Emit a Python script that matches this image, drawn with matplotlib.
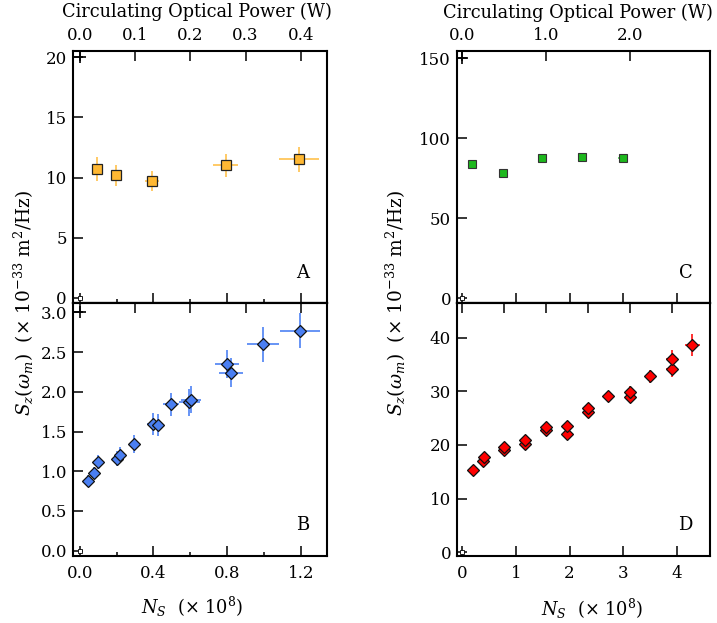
import matplotlib
matplotlib.use("Agg")
import matplotlib.pyplot as plt
import numpy as np

# ---------------- data ----------------
# Panel A: circulating optical power (W) vs S_z (1e-33 m^2/Hz)
A_power = [0.032, 0.065, 0.131, 0.264, 0.396]
A_S = [10.72, 10.17, 9.70, 11.00, 11.50]
A_xerr = [0.004, 0.004, 0.012, 0.023, 0.036]
A_yerr = [0.97, 0.90, 0.86, 0.97, 1.03]

# Panel B: N_S (1e8) vs S_z
B_N = [0.047, 0.080, 0.101, 0.201, 0.219, 0.297, 0.396, 0.427, 0.496,
       0.595, 0.604, 0.798, 0.821, 0.993, 1.195]
B_S = [0.877, 0.977, 1.12, 1.16, 1.21, 1.34, 1.59, 1.58, 1.84,
       1.87, 1.90, 2.35, 2.24, 2.60, 2.77]
B_xerr = [0.010, 0.010, 0.012, 0.020, 0.020, 0.025, 0.030, 0.030, 0.045,
          0.055, 0.055, 0.065, 0.065, 0.088, 0.107]
B_yerr = [0.07, 0.08, 0.09, 0.10, 0.10, 0.11, 0.14, 0.14, 0.15,
          0.17, 0.17, 0.18, 0.18, 0.22, 0.22]

# Panel C: circulating optical power (W) vs S_z
C_power = [0.11, 0.49, 0.95, 1.43, 1.91]
C_S = [84.0, 78.2, 87.8, 88.4, 87.8]
C_xerr = [0.01, 0.01, 0.02, 0.03, 0.06]
C_yerr = [1.0, 1.0, 1.0, 1.0, 1.0]

# Panel D: N_S (1e8) vs S_z
D_N = [0.206, 0.39, 0.40, 0.78, 0.78, 1.17, 1.17, 1.57, 1.57, 1.96, 1.96,
       2.34, 2.34, 2.72, 3.12, 3.12, 3.50, 3.91, 3.91, 4.29]
D_S = [15.3, 17.0, 17.7, 19.0, 19.7, 20.2, 21.0, 22.8, 23.3, 22.0, 23.5,
       26.2, 26.8, 29.1, 28.9, 29.9, 32.8, 34.1, 36.1, 38.6]
D_xerr = [0.03, 0.03, 0.03, 0.04, 0.04, 0.05, 0.05, 0.06, 0.06, 0.06, 0.06,
          0.07, 0.07, 0.08, 0.09, 0.09, 0.10, 0.12, 0.12, 0.14]
D_yerr = [0.5, 0.6, 0.6, 0.6, 0.6, 0.7, 0.7, 0.7, 0.7, 0.8, 0.8,
          0.8, 0.8, 0.9, 1.0, 1.0, 1.2, 1.4, 1.6, 2.0]

# conversion factor N_S(1e8) per W of circulating power for each column
left_factor = 3.0
right_factor = 1.565

# tick labels
A_top_ticks = [0.0, 0.1, 0.2, 0.3, 0.4]
A_yticks = [0, 5, 10, 15, 20]
B_xticks = [0.0, 0.4, 0.8, 1.2]
B_xminor = [0.2, 0.6, 1.0]
B_yticks = [0.0, 0.5, 1.0, 1.5, 2.0, 2.5, 3.0]
C_top_ticks = [0.0, 1.0, 2.0]
C_yticks = [0, 50, 100, 150]
D_xticks = [0, 1, 2, 3, 4]
D_top_ticks = [0.0, 0.5, 1.0, 1.5, 2.0, 2.5]
D_yticks = [0, 10, 20, 30, 40]

top_title = "Circulating Optical Power (W)"
ylabel = r"$S_z(\omega_m)\ \ (\times\ 10^{-33}\ \mathrm{m}^2/\mathrm{Hz})$"
xlabel = r"$N_S\ \ (\times\ 10^8)$"

# ---------------- style ----------------
plt.rcParams['font.family'] = ['DejaVu Serif']
plt.rcParams['mathtext.fontset'] = 'dejavuserif'
FS = 12
LFS = 12.8
SPW = 1.5

W, H = 717, 623
fig = plt.figure(figsize=(W / 100, H / 100), dpi=100)


def rect(x0, x1, y0, y1):
    return [x0 / W, 1 - y1 / H, (x1 - x0) / W, (y1 - y0) / H]


axA = fig.add_axes(rect(72.5, 326.7, 51, 303.3))
axB = fig.add_axes(rect(72.5, 326.7, 303.3, 555.5))
axC = fig.add_axes(rect(456.7, 709.5, 51, 303.3))
axD = fig.add_axes(rect(456.7, 709.5, 303.3, 555.5))

for ax in (axA, axB, axC, axD):
    for s in ax.spines.values():
        s.set_linewidth(SPW)
    ax.tick_params(axis='both', which='major', direction='in', length=7,
                   width=1.1, labelsize=FS, pad=4)
    ax.tick_params(axis='both', which='minor', direction='in', length=3.2,
                   width=1.1)
    ax.yaxis.set_ticks_position('left')

Bxlim = (-0.039, 1.34)
Dxlim = (-0.104, 4.61)

# ---- panel A ----
axA.errorbar(A_power, A_S, xerr=A_xerr, yerr=A_yerr, fmt='s', ms=6.6,
             mfc='#FFB833', mec='#222222', mew=0.9, ecolor='#FFC65A',
             elinewidth=1.3, capsize=0, zorder=3)
axA.set_xlim(Bxlim[0] / left_factor, Bxlim[1] / left_factor)
axA.set_ylim(-0.47, 20.53)
axA.set_yticks(A_yticks)
axA.xaxis.set_ticks_position('top')
axA.set_xticks(A_top_ticks)
axA.set_xticklabels([f"{v:.1f}" for v in A_top_ticks])
axA.tick_params(axis='x', pad=5)
secA = axA.secondary_xaxis('bottom', functions=(lambda p: p * left_factor,
                                                 lambda n: n / left_factor))
secA.set_xticks(B_xticks)
secA.set_xticks(B_xminor, minor=True)
secA.tick_params(which='major', direction='in', length=7, width=1.1, labelbottom=False)
secA.tick_params(which='minor', direction='in', length=3.2, width=1.1)
secA.spines['bottom'].set_linewidth(SPW)

# ---- panel B ----
axB.errorbar(B_N, B_S, xerr=B_xerr, yerr=B_yerr, fmt='D', ms=6.0,
             mfc='#4A7FF2', mec='#111111', mew=0.9, ecolor='#5B8BF5',
             elinewidth=1.3, capsize=0, zorder=3)
axB.set_xlim(*Bxlim)
axB.set_ylim(-0.06, 3.113)
axB.set_yticks(B_yticks)
axB.set_yticklabels([f"{v:.1f}" for v in B_yticks])
axB.xaxis.set_ticks_position('bottom')
axB.set_xticks(B_xticks)
axB.set_xticklabels([f"{v:.1f}" for v in B_xticks])
axB.set_xticks(B_xminor, minor=True)
axB.tick_params(axis='x', pad=7)
secB = axB.secondary_xaxis('top', functions=(lambda n: n / left_factor,
                                              lambda p: p * left_factor))
secB.set_xticks(A_top_ticks)
secB.tick_params(which='major', direction='in', length=7, width=1.1, labeltop=False)
secB.spines['top'].set_linewidth(SPW)

# ---- panel C ----
axC.errorbar(C_power, C_S, xerr=C_xerr, yerr=C_yerr, fmt='s', ms=6.2,
             mfc='#1DB81D', mec='#333333', mew=0.8, ecolor='#44CC44',
             elinewidth=1.2, capsize=0, zorder=3)
axC.set_xlim(Dxlim[0] / right_factor, Dxlim[1] / right_factor)
axC.set_ylim(-3.0, 154.6)
axC.set_yticks(C_yticks)
axC.xaxis.set_ticks_position('top')
axC.set_xticks(C_top_ticks)
axC.set_xticklabels([f"{v:.1f}" for v in C_top_ticks])
axC.tick_params(axis='x', pad=5)
secC = axC.secondary_xaxis('bottom', functions=(lambda p: p * right_factor,
                                                 lambda n: n / right_factor))
secC.set_xticks(D_xticks)
secC.tick_params(which='major', direction='in', length=7, width=1.1, labelbottom=False)
secC.spines['bottom'].set_linewidth(SPW)

# ---- panel D ----
axD.errorbar(D_N, D_S, xerr=D_xerr, yerr=D_yerr, fmt='D', ms=6.2,
             mfc='#FF0000', mec='#111111', mew=0.9, ecolor='#FF2020',
             elinewidth=1.3, capsize=0, zorder=3)
axD.set_xlim(*Dxlim)
axD.set_ylim(-0.6, 46.4)
axD.set_yticks(D_yticks)
axD.xaxis.set_ticks_position('bottom')
axD.set_xticks(D_xticks)
axD.tick_params(axis='x', pad=7)
secD = axD.secondary_xaxis('top', functions=(lambda n: n / right_factor,
                                              lambda p: p * right_factor))
secD.set_xticks(D_top_ticks)
secD.tick_params(which='major', direction='in', length=7, width=1.1, labeltop=False)
secD.spines['top'].set_linewidth(SPW)

# origin markers and corner crosses (as in the original figure)
for ax in (axA, axB, axC, axD):
    ax.plot([0], [0], 's', ms=3.5, mfc='white', mec='black', mew=0.6,
            clip_on=False, zorder=4)
axA.plot([0], [20], '+', ms=8, color='black', mew=1.2, clip_on=False, zorder=4)
axB.plot([0], [3.0], '+', ms=8, color='black', mew=1.2, clip_on=False, zorder=4)
axC.plot([0], [150], '+', ms=8, color='black', mew=1.2, clip_on=False, zorder=4)

# panel letters
for ax, lab in ((axA, 'A'), (axB, 'B'), (axC, 'C'), (axD, 'D')):
    ax.text(0.905, 0.12, lab, transform=ax.transAxes, ha='center',
            va='center', fontsize=FS + 1)

# titles and labels
fig.text(197 / W, 1 - 12 / H, top_title, ha='center', va='center', fontsize=LFS)
fig.text(578 / W, 1 - 13 / H, top_title, ha='center', va='center', fontsize=LFS)
fig.text(192 / W, 1 - 607 / H, xlabel, ha='center', va='center', fontsize=LFS)
fig.text(592 / W, 1 - 609 / H, xlabel, ha='center', va='center', fontsize=LFS)
fig.text(24 / W, 1 - 303 / H, ylabel, ha='center', va='center',
         rotation=90, fontsize=13.3)
fig.text(396 / W, 1 - 303 / H, ylabel, ha='center', va='center',
         rotation=90, fontsize=13.3)

fig.savefig("out.png", dpi=100)
